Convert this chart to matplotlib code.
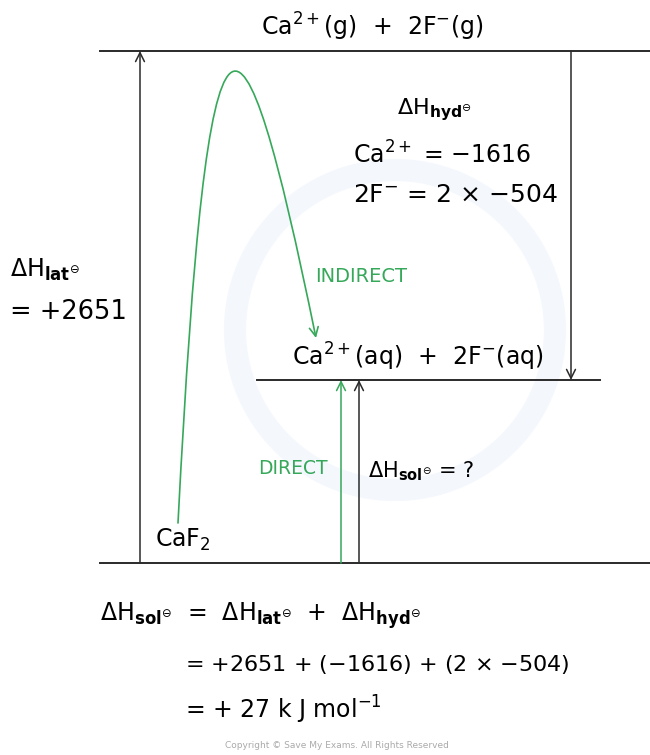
'''
Born-Haber style enthalpy of solution cycle for CaF2
'''
import matplotlib.pyplot as plt
from matplotlib.path import Path
from matplotlib.patches import FancyArrowPatch, Circle

# values shown on the diagram (kJ mol-1)
lattice = 2651
hyd_ca = -1616
hyd_f = -504
n_f = 2
solution = lattice + hyd_ca + n_f * hyd_f   # 27

black = '#2a2a2a'
green = '#36a85a'
fs = 17

gas_label = r'Ca$^{2+}$(g)  +  2F$^{-}$(g)'
aq_label = r'Ca$^{2+}$(aq)  +  2F$^{-}$(aq)'
solid_label = r'CaF$_2$'

dh_hyd = r'$\Delta$H$_{\mathbf{hyd}^{\ominus}}$'
dh_lat = r'$\Delta$H$_{\mathbf{lat}^{\ominus}}$'
dh_sol = r'$\Delta$H$_{\mathbf{sol}^{\ominus}}$'

fig = plt.figure(figsize=(6.5, 7.55), dpi=100)
ax = fig.add_axes([0, 0, 1, 1])
ax.set_xlim(0, 650)
ax.set_ylim(755, 0)
ax.axis('off')

# faint watermark
ax.add_patch(Circle((395, 330), 160, fill=False, ec='#f4f8fd', lw=16, zorder=0))

# levels
ax.plot([100, 650], [51, 51], color=black, lw=1.4)
ax.plot([257, 600], [380, 380], color=black, lw=1.4)
ax.plot([100, 650], [563, 563], color=black, lw=1.4)

arrow = dict(arrowstyle='->', lw=1.1, color=black, mutation_scale=16, shrinkA=0, shrinkB=0)
ax.annotate('', xy=(140, 51), xytext=(140, 563), arrowprops=arrow)
ax.annotate('', xy=(571, 380), xytext=(571, 51), arrowprops=arrow)
ax.annotate('', xy=(359, 380), xytext=(359, 563), arrowprops=arrow)
ax.annotate('', xy=(341, 380), xytext=(341, 563),
            arrowprops=dict(arrow, color=green))

# indirect route
route = Path([(178, 523), (208, -58), (240, -32), (316, 338)],
             [Path.MOVETO, Path.CURVE4, Path.CURVE4, Path.CURVE4])
ax.add_patch(FancyArrowPatch(path=route, arrowstyle='->', color=green,
                             lw=1.2, mutation_scale=16))

# labels
ax.text(372, 27, gas_label, fontsize=fs, ha='center', va='center')
ax.text(292, 357, aq_label, fontsize=fs, ha='left', va='center')
ax.text(155, 540, solid_label, fontsize=fs, ha='left', va='center')

ax.text(397, 110, dh_hyd, fontsize=fs - 1, ha='left', va='center')
ax.text(353, 155, r'Ca$^{2+}$ = $-$%d' % -hyd_ca, fontsize=fs, ha='left', va='center')
ax.text(353, 195, r'2F$^{-}$ = %d $\times$ $-$%d' % (n_f, -hyd_f), fontsize=fs + 1,
        ha='left', va='center')

ax.text(10, 270, dh_lat, fontsize=fs, ha='left', va='center')
ax.text(10, 312, '= +%d' % lattice, fontsize=fs + 1.5, ha='left', va='center')

ax.text(315, 276, 'INDIRECT', fontsize=14, color=green, ha='left', va='center')
ax.text(258, 468, 'DIRECT', fontsize=13.5, color=green, ha='left', va='center')
ax.text(368, 471, dh_sol + ' = ?', fontsize=fs - 2, ha='left', va='center')

# working
ax.text(100, 616, dh_sol + '  =  ' + dh_lat + '  +  ' + dh_hyd, fontsize=fs,
        ha='left', va='center')
ax.text(185, 664, r'= +%d + ($-$%d) + (%d $\times$ $-$%d)' % (lattice, -hyd_ca, n_f, -hyd_f),
        fontsize=fs - 1, ha='left', va='center')
ax.text(185, 710, r'= + %d k J mol$^{-1}$' % solution, fontsize=fs,
        ha='left', va='center')

ax.text(337, 746, 'Copyright © Save My Exams. All Rights Reserved', fontsize=6.5,
        color='#aaaaaa', ha='center', va='center')

fig.savefig('out.png', dpi=100, facecolor='white')
